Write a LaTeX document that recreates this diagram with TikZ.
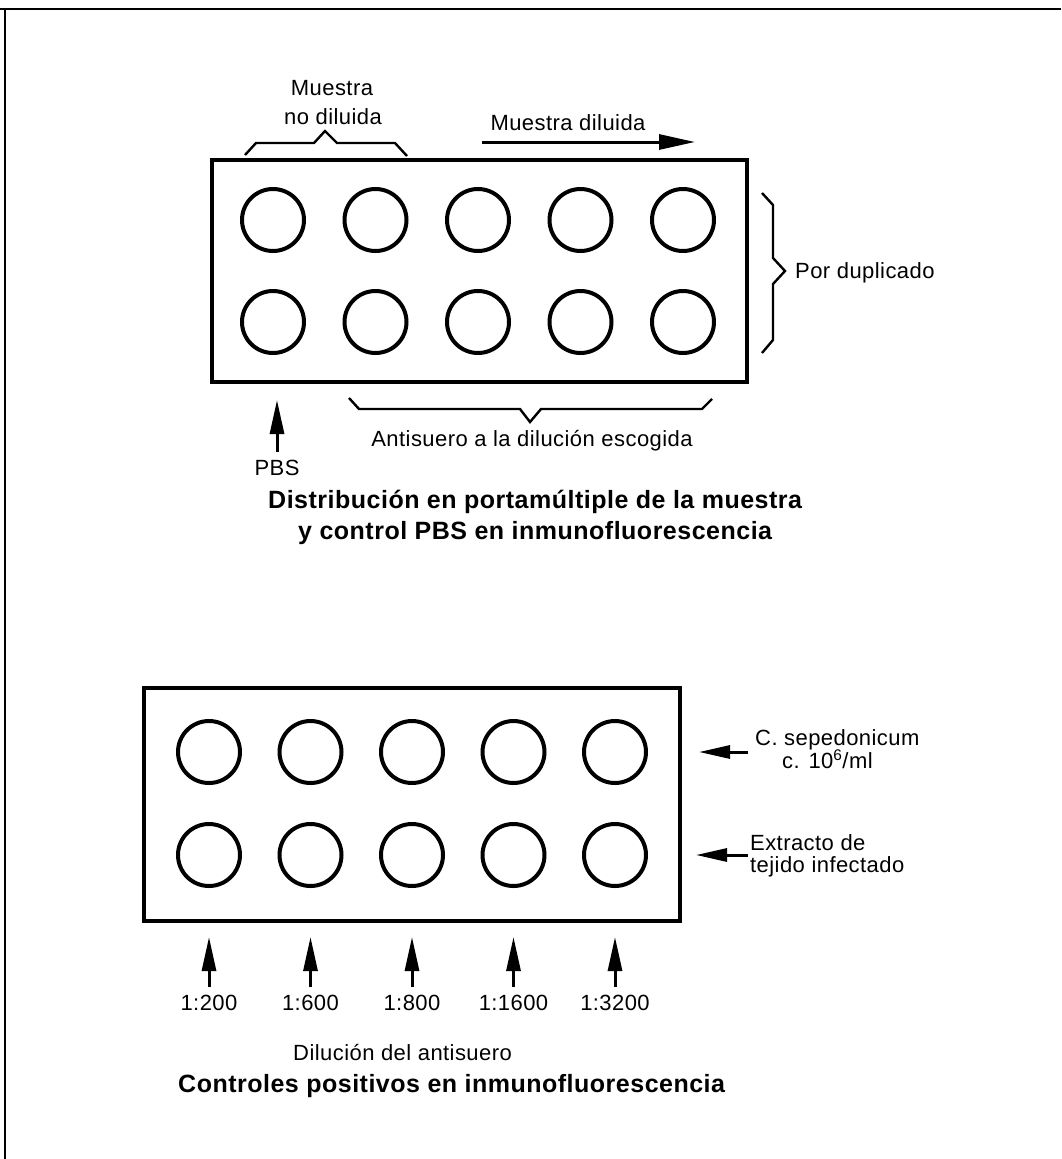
\documentclass[tikz,border=0pt]{standalone}
\usepackage{fontspec}
\setmainfont{Liberation Sans}[LetterSpace=2]
\usetikzlibrary{arrows.meta}
\tikzset{
  well/.style={circle, draw, line width=4pt, minimum size=62pt, inner sep=0pt},
  slide/.style={draw, line width=4.5pt, inner sep=0pt},
  brace/.style={line width=2.4pt, line join=miter},
  uparrow/.style={line width=3pt, -{Triangle[length=34pt,width=14pt]}},
  sidearrow/.style={line width=3pt, -{Triangle[length=31pt,width=13pt]}},
  lbl/.style={font=\fontsize{22}{26}\selectfont, inner sep=0pt},
  ttl/.style={font=\fontsize{25}{30}\selectfont\bfseries, inner sep=0pt},
  frame/.style={line width=1.5pt},
}
\begin{document}
\begin{tikzpicture}[x=1pt,y=-1pt]
\useasboundingbox (0,0) rectangle (1061,1159);
\draw[frame] (0,9) -- (1061,9);
\draw[frame] (5,9) -- (5,1159);

% ---------- top slide ----------
\node[slide, minimum width=535pt, minimum height=222pt] (s1) at (479.5,271) {};
\foreach \i/\x in {1/273,2/375.5,3/478,4/580.5,5/683}{
  \node[well] (a\i) at (\x,220) {};
  \node[well] (b\i) at (\x,322) {};
}
\node[lbl, anchor=base] (mnd1) at (332,95) {Muestra};
\node[lbl, anchor=base] (mnd2) at (333,124) {no diluida};
\draw[brace] (245,155) -- (256,143) -- (314,143) -- (325,131) -- (337,143) -- (395,143) -- (407,156);

\node[lbl, anchor=base] (md) at (568,130) {Muestra diluida};
\coordinate (md0) at (482,142);
\coordinate (md1) at (695,142);
\draw[line width=3pt, -{Triangle[length=36pt,width=15pt]}] (md0) -- (md1);

\draw[brace] (762,193) -- (773,205) -- (773,258) -- (785,271) -- (773,284) -- (773,340) -- (762,353);
\node[lbl, anchor=base west] (dup) at (795,278) {Por duplicado};

\draw[brace] (349,398) -- (359,409) -- (520,409) -- (530,422) -- (541,409) -- (702,409) -- (712,399);
\node[lbl, anchor=base] (anti) at (532,446) {Antisuero a la dilución escogida};

\node[lbl, anchor=base] (pbs) at (277,475) {PBS};
\coordinate (pbs0) at (277,452);
\coordinate (pbs1) at (277,400);
\draw[uparrow] (pbs0) -- (pbs1);

\node[ttl, anchor=base west] (t1) at (268,508) {Distribución en portamúltiple de la muestra};
\node[ttl, anchor=base] (t2) at (t1.center |- 0,539) {y control PBS en inmunofluorescencia};

% ---------- bottom slide ----------
\node[slide, minimum width=536pt, minimum height=233pt] (s2) at (412,804.5) {};
\foreach \i/\x/\d in {1/209/1:200,2/310.5/1:600,3/412/1:800,4/513.5/1:1600,5/615/1:3200}{
  \node[well] (c\i) at (\x,752) {};
  \node[well] (d\i) at (\x,855) {};
  \node[lbl, anchor=base] (dl\i) at (\x,1010) {\d};
  \coordinate (p\i) at (\x,987);
  \coordinate (q\i) at (\x,937);
  \draw[uparrow] (p\i) -- (q\i);
}

\node[lbl, anchor=base west] (cs1) at (755,745) {C. sepedonicum};
\node[lbl, anchor=base west] (cs2) at (782,768) {c. 10\textsuperscript{6}/ml};
\coordinate (r0) at (748,752);
\coordinate (r1) at (699,752);
\draw[sidearrow] (r0) -- (r1);

\node[lbl, anchor=base west] (ex1) at (750,850) {Extracto de};
\node[lbl, anchor=base west] (ex2) at (750,872) {tejido infectado};
\coordinate (u0) at (748,855);
\coordinate (u1) at (696,855);
\draw[sidearrow] (u0) -- (u1);

\node[lbl, anchor=base west] (dil) at (293,1060) {Dilución del antisuero};
\node[ttl, anchor=base west] (t3) at (178,1092) {Controles positivos en inmunofluorescencia};
\end{tikzpicture}
\end{document}
